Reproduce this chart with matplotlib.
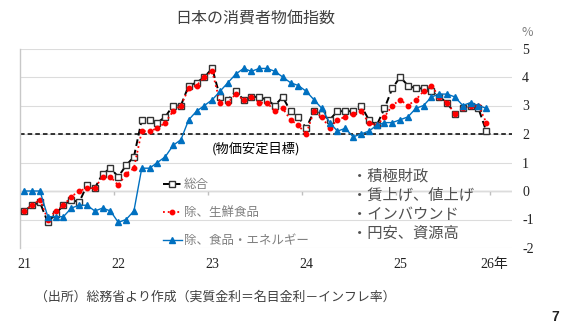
import numpy as np
import matplotlib
matplotlib.use('Agg')
import matplotlib.pyplot as plt

plt.rcParams['font.family'] = ['Noto Sans CJK JP', 'DejaVu Sans']

# 月次 2021/1 - 2025/12 (前年比, %)
headline = [-0.7, -0.5, -0.4, -1.1, -0.8, -0.5, -0.3, -0.4, 0.2, 0.1, 0.6, 0.8,
            0.5, 0.9, 1.2, 2.5, 2.5, 2.4, 2.6, 3.0, 3.0, 3.7, 3.8, 4.0,
            4.3, 3.3, 3.2, 3.5, 3.2, 3.3, 3.3, 3.2, 3.0, 3.3, 2.8, 2.6,
            2.2, 2.8, 2.7, 2.5, 2.8, 2.8, 2.8, 3.0, 2.5, 2.3, 2.9, 3.6,
            4.0, 3.7, 3.6, 3.6, 3.5, 3.3, 3.1, 2.7, 2.9, 3.0, 2.9, 2.1]
ex_fresh = [-0.7, -0.5, -0.3, -1.0, -0.7, -0.5, -0.2, 0.0, 0.1, 0.1, 0.5, 0.5,
            0.2, 0.6, 0.8, 2.1, 2.1, 2.2, 2.4, 2.8, 3.0, 3.6, 3.7, 4.0,
            4.2, 3.1, 3.1, 3.4, 3.2, 3.3, 3.1, 3.1, 2.8, 2.9, 2.5, 2.3,
            2.0, 2.8, 2.6, 2.2, 2.5, 2.6, 2.7, 2.8, 2.4, 2.3, 2.6, 3.0,
            3.2, 3.0, 3.2, 3.5, 3.7, 3.3, 3.1, 2.7, 2.9, 3.0, 3.0, 2.4]
ex_food_energy = [0.0, 0.0, 0.0, -0.9, -0.9, -0.9, -0.6, -0.5, -0.5, -0.7, -0.6, -0.7,
                  -1.1, -1.0, -0.7, 0.8, 0.8, 1.0, 1.2, 1.6, 1.8, 2.5, 2.8, 3.0,
                  3.2, 3.5, 3.8, 4.1, 4.3, 4.2, 4.3, 4.3, 4.2, 4.0, 3.8, 3.7,
                  3.5, 3.2, 2.9, 2.4, 2.1, 2.2, 1.9, 2.0, 2.1, 2.3, 2.4, 2.4,
                  2.5, 2.6, 2.9, 3.0, 3.3, 3.4, 3.4, 3.3, 3.0, 3.1, 3.0, 2.9]
year_labels = ['21', '22', '23', '24', '25', '26年']
y_ticks = [-2, -1, 0, 1, 2, 3, 4, 5]
target = 2.0
notes = ['・積極財政', '・賃上げ、値上げ', '・インバウンド', '・円安、資源高']

W, H = 570, 331
fig = plt.figure(figsize=(W / 100, H / 100), dpi=100)
ax = fig.add_axes([20.4 / W, 1 - 248 / H, 491.3 / W, 199.5 / H])

x = np.arange(len(headline))
num_font = ['Liberation Serif', 'Noto Sans CJK JP']

ax.plot(x, headline, color='black', ls=(0, (3.5, 2)), lw=1.4, marker='s', ms=5,
        mfc='white', mec='#333333', mew=1.0, label='総合', zorder=3)
ax.plot(x, ex_fresh, color='#ff0000', ls=':', lw=1.3, marker='o', ms=3.2,
        mec='#ff0000', mfc='#ff0000', label='除、生鮮食品', zorder=4)
ax.plot(x, ex_food_energy, color='#0070c0', ls='-', lw=1.0, marker='^', ms=5,
        mec='#0070c0', mfc='#0070c0', label='除、食品・エネルギー', zorder=5)

# 物価安定目標
ax.axhline(target, color='black', ls=(0, (3, 2)), lw=1.1, zorder=2)
ax.text(24.0, target - 0.5, '(物価安定目標)', fontsize=9.5, color='black',
        ha='left', va='center')

ax.set_xlim(-0.5, 62.25)
ax.set_ylim(-2, 5)
ax.set_yticks(y_ticks)
ax.set_yticklabels([str(v) for v in y_ticks], family=num_font, fontsize=10, color='#222222')
ax.yaxis.tick_right()
ax.tick_params(axis='y', length=0, pad=7.5)
ax.grid(axis='y', color='#dcdcdc', lw=0.8, zorder=0)
ax.axhline(0, color='#bfbfbf', lw=1.0, zorder=1)
year_start = np.arange(0, len(headline) + 1, 12)
ax.vlines(year_start[1:] - 0.5, -0.14, 0, color='#bfbfbf', lw=1.0, zorder=1)

ax.set_xticks(year_start)
ax.set_xticklabels(year_labels, family=num_font, fontsize=10, color='#222222')
ax.tick_params(axis='x', length=0, pad=7)

for s in ['top', 'right', 'bottom']:
    ax.spines[s].set_visible(False)
ax.spines['left'].set_color('#c8c8c8')
ax.spines['left'].set_linewidth(1.0)

leg = ax.legend(loc='upper left', bbox_to_anchor=(0.29, 0.35), frameon=False,
                fontsize=9, labelcolor='#808080', handlelength=1.5,
                handletextpad=0.2, labelspacing=1.2, borderpad=0, borderaxespad=0)

fig.text(255 / W, 1 - 18 / H, '日本の消費者物価指数', fontsize=11.5, color='#404040',
         ha='center', va='center')
fig.text(522 / W, 1 - 33 / H, '%', fontsize=9, color='#808080', ha='left', va='center')
for i, t in enumerate(notes):
    fig.text(352 / W, 1 - (176.5 + i * 19) / H, t, fontsize=11, color='#505050',
             ha='left', va='center')
fig.text(35 / W, 1 - 297 / H, '（出所）総務省より作成（実質金利＝名目金利－インフレ率）',
         fontsize=9.3, color='#404040', ha='left', va='center')
fig.text(555 / W, 1 - 317 / H, '7', fontsize=10, fontweight='bold', color='#222222',
         ha='center', va='center', family=['Liberation Sans'])

fig.savefig('out.png', dpi=100)
